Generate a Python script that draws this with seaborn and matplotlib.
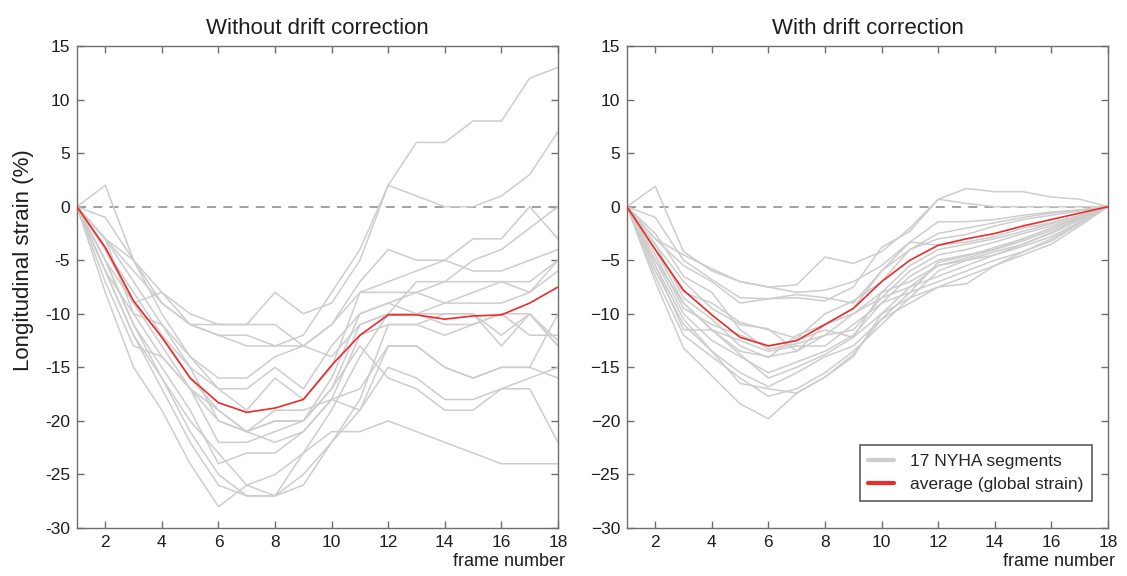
import numpy as np
import pandas as pd
import matplotlib
matplotlib.use("Agg")
import matplotlib.pyplot as plt
from matplotlib.lines import Line2D
from matplotlib.ticker import FuncFormatter
import seaborn as sns

sns.set_style("white")
plt.rcParams["font.family"] = ["Liberation Sans", "DejaVu Sans"]

frames = list(range(1, 19))

# Segmental longitudinal strain (%) per frame, raw tracking
raw_segments = [
    [0, -1, -5, -9, -11, -12, -13, -13, -12, -8, -4, 2, 6, 6, 8, 8, 12, 13],
    [0, -3, -5, -8, -10, -11, -11, -8, -10, -9, -5, 2, 1, 0, 0, 1, 3, 7],
    [0, -3, -6, -9, -11, -12, -12, -13, -13, -11, -7, -4, -5, -5, -6, -6, -5, -4],
    [0, 2, -5, -10, -14, -16, -16, -14, -13, -11, -8, -7, -6, -5, -3, -3, 0, -3],
    [0, -3, -7, -11, -14, -17, -17, -15, -17, -13, -10, -9, -8, -7, -5, -4, -2, 0],
    [0, -4, -8, -12, -15, -17, -19, -16, -18, -15, -8, -8, -8, -9, -8, -7, -7, -5],
    [0, -5, -9, -8, -11, -11, -11, -11, -13, -14, -11, -10, -7, -7, -7, -7, -8, -6],
    [0, -4, -9, -12, -16, -19, -21, -20, -20, -16, -10, -9, -10, -9, -9, -9, -8, -5],
    [0, -6, -10, -14, -17, -20, -21, -22, -21, -18, -12, -11, -11, -10, -10, -13, -10, -13],
    [0, -4, -9, -13, -17, -19, -21, -20, -20, -17, -11, -10, -10, -10, -10, -12, -10, -12.5],
    [0, -3, -10, -11, -15, -20, -21, -19, -19, -18, -17, -13, -13, -15, -16, -15, -15, -10],
    [0, -7, -13, -14, -17, -22, -22, -21, -20, -17, -13, -16, -17, -19, -19, -17, -17, -22],
    [0, -5, -11, -15, -19, -24, -23, -23, -21, -18, -19, -15, -16, -18, -18, -17, -16, -15],
    [0, -6, -12, -16, -21, -25, -27, -27, -26, -22, -19, -13, -13, -15, -16, -15, -15, -16],
    [0, -8, -15, -19, -24, -28, -26, -25, -23, -21, -21, -20, -21, -22, -23, -24, -24, -24],
    [0, -6, -12, -17, -22, -26, -27, -27, -25, -22, -18, -11, -11, -12, -11, -10, -10, -13],
    [0, -5, -11, -16, -20, -23, -26, -27, -23, -19, -14, -10, -10, -11, -11, -10, -12, -12],
]
raw_average = [0, -3.8, -8.8, -12.2, -16.0, -18.3, -19.2, -18.8, -18.0, -14.8,
               -12.0, -10.1, -10.1, -10.5, -10.2, -10.1, -9.0, -7.5]

# Same segments after drift correction (end-systolic frame forced back to 0)
corrected_segments = [
    [0, 1.9, -4.2, -6.0, -7.0, -7.5, -7.3, -4.7, -5.3, -4.2, -2.0, 0.7, 1.7, 1.4, 1.4, 0.9, 0.7, 0],
    [0, -1.0, -5.0, -6.8, -8.5, -8.6, -8.5, -8.8, -7.5, -3.8, -2.3, 0.7, 0.3, 0.0, 0.0, 0.0, 0.0, 0],
    [0, -3.0, -4.5, -5.8, -7.0, -7.5, -8.0, -7.8, -7.0, -5.5, -3.3, -1.4, -1.4, -1.2, -0.8, -0.5, -0.3, 0],
    [0, -3.0, -5.5, -7.0, -9.0, -8.6, -8.2, -8.5, -9.0, -6.0, -4.0, -2.5, -2.0, -1.5, -1.0, -0.6, -0.3, 0],
    [0, -4.0, -8.0, -9.0, -10.8, -11.5, -12.3, -10.0, -8.8, -7.0, -4.0, -3.0, -2.6, -1.8, -1.2, -0.8, -0.4, 0],
    [0, -3.5, -7.0, -9.5, -11.0, -11.4, -13.5, -11.0, -9.5, -6.0, -3.3, -3.6, -3.3, -2.8, -2.0, -1.5, -0.8, 0],
    [0, -4.5, -9.5, -11.0, -12.0, -13.0, -12.5, -11.5, -12.2, -8.0, -5.5, -4.0, -3.5, -3.0, -2.3, -1.6, -0.8, 0],
    [0, -2.5, -6.5, -8.0, -11.5, -13.3, -12.8, -12.0, -10.0, -8.5, -6.0, -4.5, -4.0, -3.3, -2.5, -1.8, -0.9, 0],
    [0, -5.0, -9.0, -11.5, -12.5, -13.5, -13.0, -13.0, -11.0, -9.0, -6.5, -5.0, -4.5, -4.0, -3.2, -2.2, -1.1, 0],
    [0, -3.5, -8.5, -10.5, -13.0, -14.1, -12.0, -11.0, -10.0, -8.0, -7.0, -5.5, -5.0, -4.5, -3.5, -2.5, -1.2, 0],
    [0, -4.0, -9.0, -11.5, -13.5, -14.0, -13.5, -12.0, -11.5, -8.5, -7.5, -6.5, -5.5, -4.5, -3.7, -2.8, -1.4, 0],
    [0, -5.0, -10.0, -12.5, -14.0, -15.5, -14.5, -13.5, -12.0, -9.0, -8.0, -7.0, -6.0, -5.0, -4.2, -3.2, -1.6, 0],
    [0, -5.5, -11.5, -11.5, -13.8, -16.0, -15.0, -13.8, -12.2, -10.0, -8.5, -7.5, -7.2, -5.5, -4.5, -3.5, -1.8, 0],
    [0, -6.0, -11.0, -13.5, -15.5, -16.8, -15.5, -14.0, -13.0, -10.5, -9.0, -7.5, -6.5, -5.5, -4.2, -3.0, -1.5, 0],
    [0, -6.5, -12.0, -14.0, -16.0, -17.7, -17.0, -15.5, -13.5, -11.0, -8.5, -6.0, -5.0, -4.2, -3.5, -2.4, -1.2, 0],
    [0, -5.5, -10.5, -13.5, -16.5, -17.0, -17.4, -15.9, -14.0, -10.0, -7.5, -5.5, -4.8, -4.0, -3.0, -2.0, -1.0, 0],
    [0, -7.0, -13.2, -15.8, -18.4, -19.8, -17.4, -15.9, -13.8, -10.5, -8.0, -5.2, -4.6, -3.8, -3.0, -2.0, -1.0, 0],
]
corrected_average = [0, -4.0, -7.8, -10.1, -12.2, -13.0, -12.5, -11.0, -9.5, -7.0,
                     -5.0, -3.6, -3.0, -2.5, -1.8, -1.2, -0.6, 0]

panel_titles = ["Without drift correction", "With drift correction"]
x_ticks = list(range(2, 19, 2))
y_ticks = list(range(-30, 16, 5))

SEG_COLOR = "#cdcdcd"
AVG_COLOR = "#ec2a2a"
SPINE_COLOR = "#6e6e6e"
TEXT_COLOR = "#1e1e1e"


def long_table(segments):
    rows = []
    for i, seg in enumerate(segments):
        for f, v in zip(frames, seg):
            rows.append({"segment": i, "frame": f, "strain": v})
    return pd.DataFrame(rows)


fig = plt.figure(figsize=(11.27, 5.76), dpi=100)
ax_l = fig.add_axes([0.0683, 0.0833, 0.4268, 0.8368])
ax_r = fig.add_axes([0.5563, 0.0833, 0.4268, 0.8368])

panels = [
    (ax_l, raw_segments, raw_average, False),
    (ax_r, corrected_segments, corrected_average, True),
]

for (ax, segs, avg, unicode_minus), title in zip(panels, panel_titles):
    ax.axhline(0, color="#9a9a9a", lw=1.3, ls=(0, (5, 4)), zorder=1)
    sns.lineplot(data=long_table(segs), x="frame", y="strain", units="segment",
                 estimator=None, color=SEG_COLOR, lw=1.1, ax=ax, zorder=2)
    sns.lineplot(x=frames, y=avg, color=AVG_COLOR, lw=1.2, ax=ax, zorder=3)

    ax.set_xlim(1, 18)
    ax.set_ylim(-30, 15)
    ax.set_xticks(x_ticks)
    ax.set_yticks(y_ticks)
    if unicode_minus:
        ax.yaxis.set_major_formatter(FuncFormatter(lambda v, p: f"{int(v)}".replace("-", "\u2212")))
    else:
        ax.yaxis.set_major_formatter(FuncFormatter(lambda v, p: f"{int(v)}"))
    ax.tick_params(direction="in", length=5, width=1, color=SPINE_COLOR,
                   labelsize=12.5, labelcolor=TEXT_COLOR, pad=5,
                   top=True, right=True, bottom=True, left=True)
    for sp in ax.spines.values():
        sp.set_color(SPINE_COLOR)
        sp.set_linewidth(1.0)
        sp.set_visible(True)
    ax.set_xlabel("")
    ax.set_ylabel("")
    ax.set_title(title, fontsize=16, color=TEXT_COLOR, pad=9)
    ax.text(1.015, -0.052, "frame number", transform=ax.transAxes,
            ha="right", va="top", fontsize=13, color=TEXT_COLOR)

ax_l.set_ylabel("Longitudinal strain (%)", fontsize=16, color=TEXT_COLOR)
ax_l.yaxis.set_label_coords(-0.09, 0.555)

handles = [Line2D([0], [0], color=SEG_COLOR, lw=3),
           Line2D([0], [0], color=AVG_COLOR, lw=3)]
leg = ax_r.legend(handles, ["17 NYHA segments", "average (global strain)"],
                  loc="lower right", bbox_to_anchor=(0.978, 0.045),
                  fontsize=12.5, frameon=True, fancybox=False,
                  handlelength=1.5, handletextpad=0.9, borderpad=0.5,
                  labelspacing=0.5, borderaxespad=0.3)
leg.get_frame().set_edgecolor("#333333")
leg.get_frame().set_linewidth(1.2)

fig.savefig("out.png", dpi=100)
